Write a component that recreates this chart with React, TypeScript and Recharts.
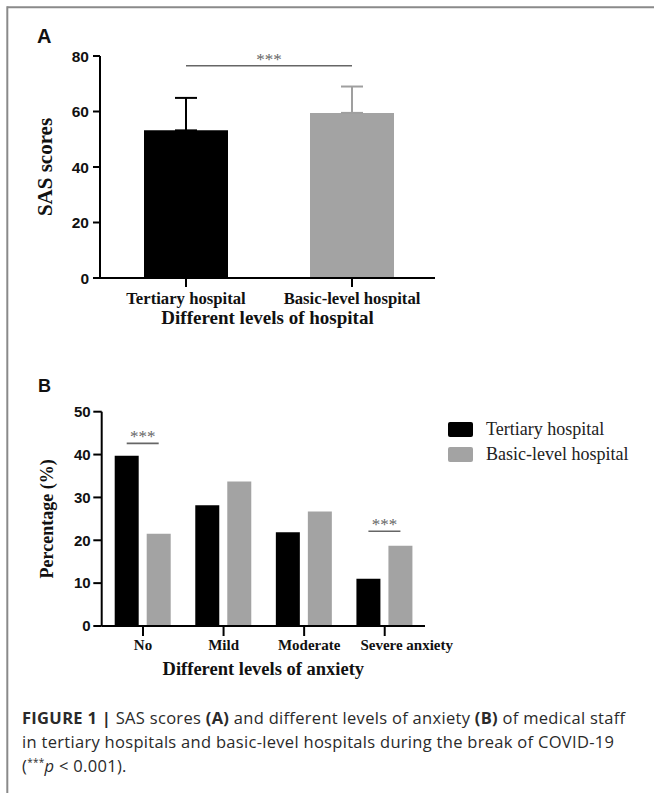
import React from 'react';
import { BarChart, Bar, XAxis, YAxis, Cell, ErrorBar, ReferenceLine, LabelList, Legend } from 'recharts';

const SERIF = '"Liberation Serif", "Times New Roman", serif';
const SANS = '"Liberation Sans", Arial, sans-serif';
const BLACK = '#000000';
const GRAY = '#a3a3a3';
const ERR_GRAY = '#9f9f9f';
const SIG = '#666666';
const TEXT = '#111111';
const BAR_GAP = 8;

// Panel A: SAS scores
const hospitalCategories = ['Tertiary hospital', 'Basic-level hospital'];
const sasMeans = [53.2, 59.5];
const sasSD = [11.7, 9.5];
const sasTicks = [0, 20, 40, 60, 80];
const sasSignificanceLevel = 76.5;

// Panel B: levels of anxiety
const anxietyLevels = ['No', 'Mild', 'Moderate', 'Severe anxiety'];
const tertiaryPercent = [39.7, 28.2, 21.9, 11.0];
const basicPercent = [21.5, 33.7, 26.7, 18.7];
const percentTicks = [0, 10, 20, 30, 40, 50];
const significantLevels = ['No', 'Severe anxiety'];
const significanceHeights = [42.6, 22.1];
const seriesNames = ['Tertiary hospital', 'Basic-level hospital'];

// label nudges (style) for crowded category labels in panel B
const tickShift: Record<string, number> = { Moderate: 5, 'Severe anxiety': 22 };

const dataA = hospitalCategories.map((name, i) => ({
  name,
  score: sasMeans[i],
  errTertiary: i === 0 ? [0, sasSD[i]] : null,
  errBasic: i === 1 ? [0, sasSD[i]] : null,
}));

const dataB = anxietyLevels.map((level, i) => {
  const k = significantLevels.indexOf(level);
  return {
    level,
    tertiary: tertiaryPercent[i],
    basic: basicPercent[i],
    sig: k >= 0 ? significanceHeights[k] : null,
  };
});

const yTitle = (text: string, size: number, dx: number) => (props: any) => {
  const vb = props.viewBox || {};
  const cx = vb.x + dx;
  const cy = vb.y + vb.height / 2;
  return (
    <text
      x={cx}
      y={cy}
      transform={`rotate(-90 ${cx} ${cy})`}
      textAnchor="middle"
      dominantBaseline="central"
      fontFamily={SERIF}
      fontWeight={700}
      fontSize={size}
      fill={TEXT}
    >
      {text}
    </text>
  );
};

const xTitle = (text: string, size: number, dy: number) => (props: any) => {
  const vb = props.viewBox || {};
  return (
    <text
      x={vb.x + vb.width / 2}
      y={vb.y + dy}
      textAnchor="middle"
      fontFamily={SERIF}
      fontWeight={700}
      fontSize={size}
      fill={TEXT}
    >
      {text}
    </text>
  );
};

const starsLabel = (props: any) => {
  const vb = props.viewBox || {};
  return (
    <text
      x={vb.x + vb.width / 2}
      y={vb.y - 1}
      textAnchor="middle"
      fontFamily={SERIF}
      fontSize={17}
      fill={SIG}
    >
      ***
    </text>
  );
};

const renderBracket = (props: any) => {
  const { index, value } = props;
  if (value == null) return null;
  const vb = props.viewBox || props;
  const { x, y, width, height } = vb;
  const base = y + height;
  const perUnit = height / tertiaryPercent[index];
  const ly = base - value * perUnit;
  const x1 = x + width / 2;
  const x2 = x1 + width + BAR_GAP;
  return (
    <g>
      <line x1={x1} y1={ly} x2={x2} y2={ly} stroke={SIG} strokeWidth={1.6} />
      <text x={(x1 + x2) / 2} y={ly - 1.5} textAnchor="middle" fontFamily={SERIF} fontSize={17} fill={SIG}>
        ***
      </text>
    </g>
  );
};

const AnxietyTick = (props: any) => {
  const { x, y, payload } = props;
  const v = payload.value;
  return (
    <text
      x={x + (tickShift[v] || 0)}
      y={y}
      dy="0.71em"
      textAnchor="middle"
      fontFamily={SERIF}
      fontWeight={700}
      fontSize={15}
      fill={TEXT}
    >
      {v}
    </text>
  );
};

const renderLegend = (props: any) => {
  const payload = [...(props.payload || [])].sort(
    (a: any, b: any) => seriesNames.indexOf(a.value) - seriesNames.indexOf(b.value)
  );
  return (
    <div>
      {payload.map((p: any, i: number) => (
        <div key={i} style={{ display: 'flex', alignItems: 'center', height: 25 }}>
          <div style={{ width: 25, height: 15, borderRadius: 2, background: p.color, marginRight: 13 }} />
          <span style={{ fontFamily: SERIF, fontSize: 18, color: '#222', whiteSpace: 'nowrap' }}>{p.value}</span>
        </div>
      ))}
    </div>
  );
};

const axisStroke = { stroke: BLACK, strokeWidth: 2 };

export default function App() {
  return (
    <div style={{ position: 'absolute', left: 0, top: 0, width: 654, height: 793, background: '#fff', overflow: 'hidden' }}>
      <div style={{ position: 'absolute', left: 0, top: 0 }}>
        <BarChart width={460} height={340} data={dataA} margin={{ top: 56, right: 25, bottom: 12, left: 40 }} barSize={84}>
          <XAxis
            dataKey="name"
            interval={0}
            padding={{ left: 3, right: 0 }}
            axisLine={axisStroke}
            tickLine={axisStroke}
            tickSize={9}
            tickMargin={5}
            height={50}
            tick={{ fill: TEXT, fontFamily: SERIF, fontWeight: 700, fontSize: 16.7 }}
            label={{ content: xTitle('Different levels of hospital', 19, 46) }}
          />
          <YAxis
            type="number"
            domain={[0, 80]}
            ticks={sasTicks}
            width={60}
            axisLine={axisStroke}
            tickLine={axisStroke}
            tickSize={7}
            tickMargin={4}
            tick={{ fill: TEXT, fontFamily: SANS, fontWeight: 700, fontSize: 15.5 }}
            label={{ content: yTitle('SAS scores', 21, 5) }}
          />
          <ReferenceLine
            segment={[
              { x: hospitalCategories[0], y: sasSignificanceLevel },
              { x: hospitalCategories[1], y: sasSignificanceLevel },
            ]}
            stroke={SIG}
            strokeWidth={1.6}
            label={{ content: starsLabel }}
          />
          <Bar dataKey="score" isAnimationActive={false}>
            {dataA.map((d, i) => (
              <Cell key={d.name} fill={i === 0 ? BLACK : GRAY} />
            ))}
            <ErrorBar dataKey="errTertiary" width={11} stroke={BLACK} strokeWidth={2} direction="y" />
            <ErrorBar dataKey="errBasic" width={11} stroke={ERR_GRAY} strokeWidth={2} direction="y" />
          </Bar>
        </BarChart>
      </div>

      <div style={{ position: 'absolute', left: 0, top: 340 }}>
        <BarChart
          width={654}
          height={345}
          data={dataB}
          margin={{ top: 71.7, right: 229, bottom: 14, left: 41.7 }}
          barSize={24}
          barGap={BAR_GAP}
        >
          <XAxis
            dataKey="level"
            interval={0}
            padding={{ left: 1, right: 0 }}
            axisLine={axisStroke}
            tickLine={axisStroke}
            tickSize={10}
            tickMargin={3.4}
            height={45}
            tick={<AnxietyTick />}
            label={{ content: xTitle('Different levels of anxiety', 18.5, 49) }}
          />
          <YAxis
            type="number"
            domain={[0, 50]}
            ticks={percentTicks}
            width={60}
            axisLine={axisStroke}
            tickLine={axisStroke}
            tickSize={8.4}
            tickMargin={2.6}
            tick={{ fill: TEXT, fontFamily: SANS, fontWeight: 700, fontSize: 15 }}
            label={{ content: yTitle('Percentage (%)', 18, 5) }}
          />
          <Legend
            layout="vertical"
            align="center"
            verticalAlign="middle"
            content={renderLegend}
            wrapperStyle={{ left: 448, top: 77, width: 200 }}
          />
          <Bar dataKey="tertiary" name={seriesNames[0]} fill={BLACK} isAnimationActive={false}>
            <LabelList dataKey="sig" content={renderBracket} />
          </Bar>
          <Bar dataKey="basic" name={seriesNames[1]} fill={GRAY} isAnimationActive={false} />
        </BarChart>
      </div>

      <svg width={654} height={793} style={{ position: 'absolute', left: 0, top: 0, pointerEvents: 'none' }}>
        <line x1={7.3} y1={7.3} x2={654} y2={7.3} stroke="#8a8a8a" strokeWidth={2} />
        <line x1={7.3} y1={6.3} x2={7.3} y2={793} stroke="#8a8a8a" strokeWidth={2} />
        <text x={37} y={43} fontFamily={SANS} fontWeight={700} fontSize={20} fill={TEXT}>A</text>
        <text x={38} y={392} fontFamily={SANS} fontWeight={700} fontSize={18} fill={TEXT}>B</text>
      </svg>

      <div
        style={{
          position: 'absolute',
          left: 22,
          top: 706,
          fontFamily: '"Open Sans", Arial, sans-serif',
          fontSize: 16.5,
          letterSpacing: '0.3px',
          lineHeight: '24px',
          color: '#2a2a2a',
          whiteSpace: 'nowrap',
        }}
      >
        <div>
          <b>FIGURE 1 |</b> SAS scores <b>(A)</b> and different levels of anxiety <b>(B)</b> of medical staff
        </div>
        <div>in tertiary hospitals and basic-level hospitals during the break of COVID-19</div>
        <div>
          (<sup style={{ fontSize: 10, verticalAlign: 'super', lineHeight: 0 }}>***</sup>
          <i>p</i> &lt; 0.001).
        </div>
      </div>
    </div>
  );
}
